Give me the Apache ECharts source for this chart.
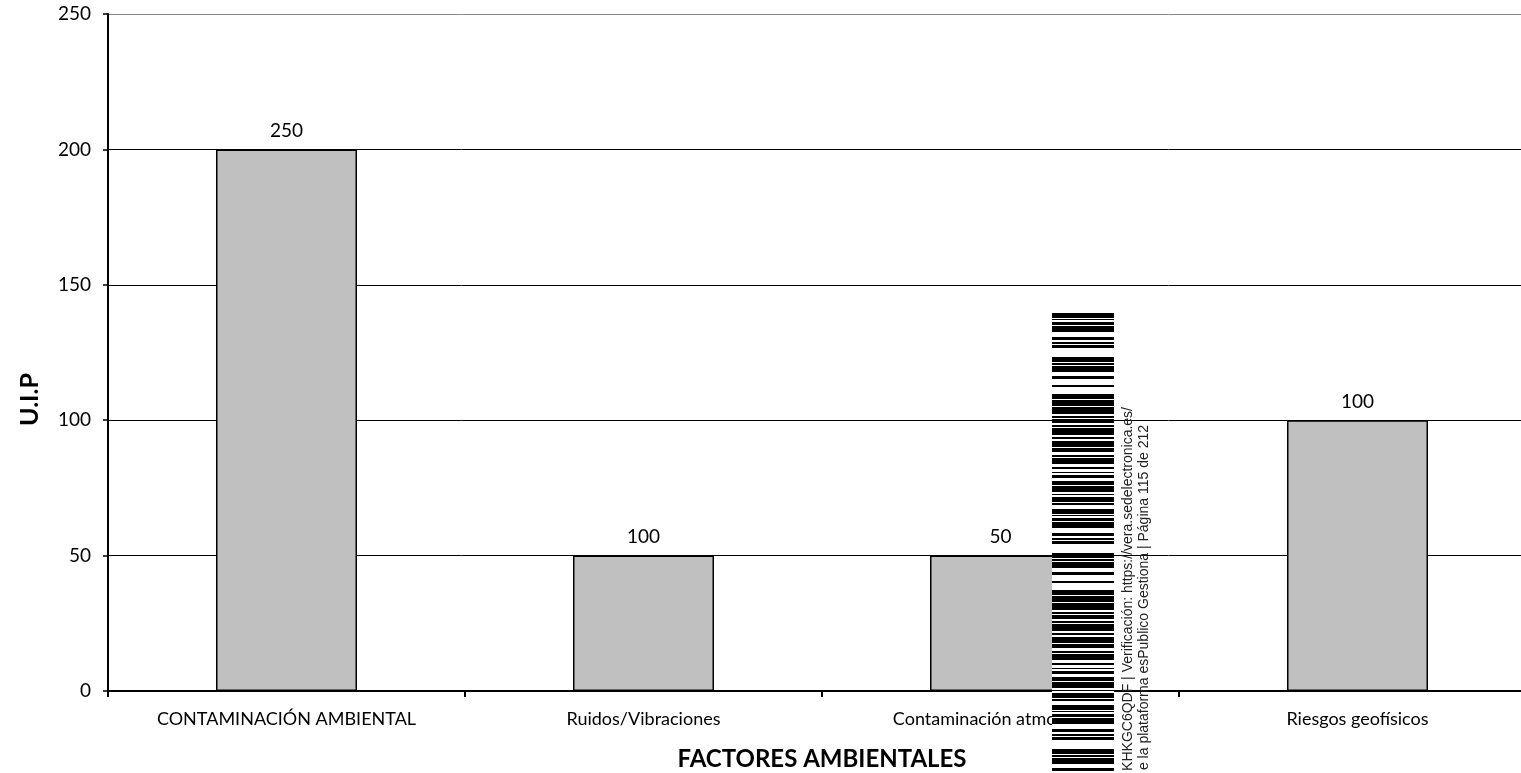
<!DOCTYPE html>
<html><head><meta charset="utf-8">
<script src="https://cdn.jsdelivr.net/npm/echarts@6/dist/echarts.min.js"></script>
<style>html,body{margin:0;padding:0;background:#fff}#c{width:1521px;height:773px}</style>
</head><body><div id="c"></div>
<script>
const categories = ['CONTAMINACIÓN AMBIENTAL', 'Ruidos/Vibraciones', 'Contaminación atmosférica', 'Riesgos geofísicos'];
const barValues = [200, 50, 50, 100];
const labelValues = [250, 100, 50, 100];
const yTicks = [0, 50, 100, 150, 200, 250];
const xTitle = 'FACTORES AMBIENTALES';
const yTitle = 'U.I.P';
const stampLine1 = 'KHKGC6QDF | Verificación: https://vera.sedelectronica.es/';
const stampLine2 = 'e la plataforma esPublico Gestiona | Página 115 de 212';
// barcode stripe pattern: [black, white] thickness pairs (decoration)
const barcodePattern = [5,1, 1,2, 3,1, 6,5, 3,2, 2,1, 3,9, 5,1, 2,1, 6,4, 3,6, 2,7, 5,1, 6,1, 7,2, 2,1, 4,2, 2,1, 7,2, 2,2, 6,1, 4,3, 2,1, 6,3, 2,3, 1,2, 3,3, 4,1, 6,2, 1,2, 5,1, 2,4];

const FONT = 'Lato';
const chart = echarts.init(document.getElementById('c'), null, {renderer: 'canvas'});

function barcode() {
  const els = [];
  const x0 = 1052, w = 62, y0 = 313, y1 = 773;
  els.push({type: 'rect', shape: {x: x0, y: y0, width: w, height: y1 - y0}, style: {fill: '#fff'}, z: 100});
  let y = y0, i = 0;
  while (y < y1) {
    const b = barcodePattern[i % barcodePattern.length];
    const g = barcodePattern[(i + 1) % barcodePattern.length];
    els.push({type: 'rect', shape: {x: x0, y: y, width: w, height: Math.min(b, y1 - y)}, style: {fill: '#000'}, z: 101});
    y += b + g;
    i += 2;
  }
  els.push({type: 'text', x: 1128, y: 407, rotation: Math.PI / 2, z: 102,
    style: {text: stampLine1, fontFamily: 'Liberation Sans', fontSize: 14, fill: '#222', align: 'right', verticalAlign: 'middle'}});
  els.push({type: 'text', x: 1144, y: 425, rotation: Math.PI / 2, z: 102,
    style: {text: stampLine2, fontFamily: 'Liberation Sans', fontSize: 14, fill: '#222', align: 'right', verticalAlign: 'middle'}});
  return els;
}

chart.setOption({
  animation: false,
  backgroundColor: '#fff',
  grid: {left: 108, width: 1428, top: 14, bottom: 82, containLabel: false, outerBoundsMode: 'none'},
  xAxis: {
    type: 'category',
    data: categories,
    axisLine: {show: true, lineStyle: {color: '#000', width: 2}},
    axisTick: {show: true, length: 6, lineStyle: {color: '#000', width: 2}},
    axisLabel: {color: '#000', fontSize: 18, fontFamily: FONT, margin: 19},
    splitLine: {show: false},
    name: xTitle,
    nameLocation: 'middle',
    nameGap: 56,
    nameTextStyle: {color: '#000', fontSize: 24, fontWeight: 'bold', fontFamily: FONT}
  },
  yAxis: {
    type: 'value',
    min: yTicks[0],
    max: yTicks[yTicks.length - 1],
    interval: yTicks[1] - yTicks[0],
    axisLine: {show: true, lineStyle: {color: '#000', width: 2}},
    axisTick: {show: true, length: 5, lineStyle: {color: '#000', width: 1.5}},
    axisLabel: {color: '#000', fontSize: 19, fontFamily: FONT, margin: 17},
    splitLine: {show: true, lineStyle: {color: ['#000', '#000', '#000', '#000', '#000', '#888'], width: 1}},
    name: yTitle,
    nameLocation: 'middle',
    nameGap: 66,
    nameTextStyle: {color: '#000', fontSize: 25, fontWeight: 'bold', fontFamily: FONT, padding: [0, 94, 0, 0]}
  },
  series: [{
    type: 'bar',
    data: barValues,
    barWidth: '39.5%',
    itemStyle: {color: '#C0C0C0', borderColor: '#000', borderWidth: 1.5},
    label: {show: true, position: 'top', distance: 9, color: '#000', fontSize: 19, fontFamily: FONT,
      formatter: p => String(labelValues[p.dataIndex])}
  }],
  graphic: barcode()
});
</script>
</body></html>
